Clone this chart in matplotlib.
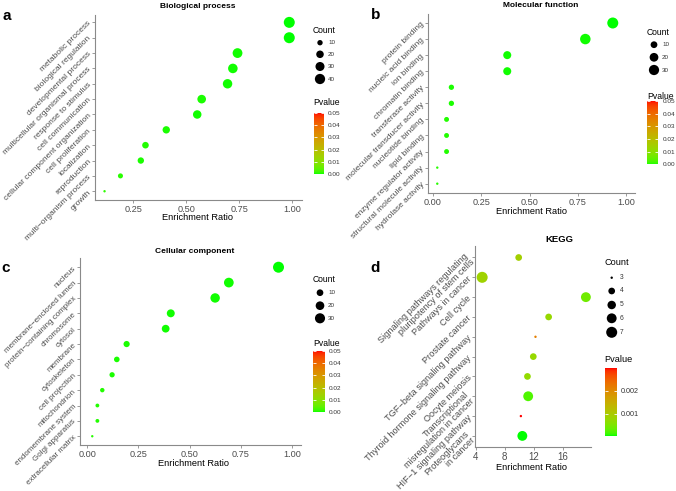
"""
Enrichment bubble plots (GO: BP / MF / CC + KEGG), four panels a-d.
"""
import matplotlib
matplotlib.use('Agg')
import matplotlib.pyplot as plt
from matplotlib.colors import ListedColormap, Normalize
from matplotlib.cm import ScalarMappable
import numpy as np

plt.rcParams['font.family'] = ['Liberation Sans', 'DejaVu Sans']

W, H = 676, 491   # figure size in pixels (dpi 100)

# ── Data ─────────────────────────────────────────────────────────────────────

bp_terms = ["metabolic process", "biological regulation", "developmental process",
            "multicellular organismal process", "response to stimulus",
            "cell communication", "cellular component organization",
            "cell proliferation", "localization", "reproduction",
            "multi\u2212organism process", "growth"]
bp_ratio = [0.986, 0.986, 0.742, 0.720, 0.695, 0.573, 0.552, 0.406, 0.308, 0.286, 0.190, 0.115]
bp_count = [47, 47, 36, 34, 33, 27, 26, 19, 15, 14, 9, 5]
bp_pval = [0.0001, 0.0001, 0.0002, 0.0002, 0.0003, 0.0004, 0.0003, 0.0005, 0.0006, 0.0004, 0.0008, 0.0010]

mf_terms = ["protein binding", "nucleic acid binding", "ion binding", "chromatin binding",
            "transferase activity", "molecular transducer activity", "nucleotide binding",
            "lipid binding", "enzyme regulator activity", "structural molecule activity",
            "hydrolase activity"]
mf_ratio = [0.930, 0.788, 0.384, 0.384, 0.095, 0.095, 0.070, 0.070, 0.070, 0.022, 0.022]
mf_count = [36, 32, 16, 16, 5, 5, 4, 4, 4, 1, 1]
mf_pval = [0.0001, 0.0002, 0.0003, 0.0003, 0.0005, 0.0005, 0.0006, 0.0006, 0.0006, 0.0008, 0.0008]

cc_terms = ["nucleus", "membrane\u2212enclosed lumen", "protein\u2212containing complex",
            "chromosome", "cytosol", "membrane", "cytoskeleton", "cell projection",
            "mitochondrion", "endomembrane system", "Golgi apparatus", "extracellular matrix"]
cc_ratio = [0.935, 0.692, 0.625, 0.408, 0.383, 0.192, 0.144, 0.121, 0.073, 0.049, 0.049, 0.024]
cc_count = [37, 27, 25, 16, 15, 8, 6, 5, 3, 2, 2, 1]
cc_pval = [0.0001, 0.0002, 0.0002, 0.0003, 0.0003, 0.0004, 0.0005, 0.0005, 0.0006, 0.0007, 0.0007, 0.0009]

kegg_terms = ["Signaling pathways regulating\npluripotency of stem cells",
              "Pathways in cancer", "Cell cycle", "Prostate cancer",
              "TGF\u2212beta signaling pathway", "Thyroid hormone signaling pathway",
              "Oocyte meiosis", "Transcriptional\nmisregulation in cancer",
              "HIF\u22121 signaling pathway", "Proteoglycans\nin cancer"]
kegg_ratio = [9.9, 4.9, 19.1, 14.0, 12.2, 11.9, 11.1, 11.2, 10.2, 10.4]
kegg_count = [4, 7, 6, 4, 3, 4, 4, 6, 3, 6]
kegg_pval = [0.00090, 0.00085, 0.00040, 0.00075, 0.00215, 0.00075, 0.00070, 0.00020, 0.00300, 0.00002]

# ── Helpers ──────────────────────────────────────────────────────────────────

def green_red_cmap(n=256):
    # ggplot-style gradient green -> red, interpolated in CIE Lab
    t = np.linspace(0, 1, n)[:, None]
    lab0 = np.array([87.73, -86.18, 83.18])
    lab1 = np.array([53.24, 80.09, 67.20])
    lab = lab0 + (lab1 - lab0) * t
    fy = (lab[:, 0] + 16) / 116
    fx = fy + lab[:, 1] / 500
    fz = fy - lab[:, 2] / 200
    finv = lambda f: np.where(f > 6 / 29, f ** 3, 3 * (6 / 29) ** 2 * (f - 4 / 29))
    xyz = np.stack([0.95047 * finv(fx), finv(fy), 1.08883 * finv(fz)], axis=1)
    m = np.array([[3.2406, -1.5372, -0.4986],
                  [-0.9689, 1.8758, 0.0415],
                  [0.0557, -0.2040, 1.0570]])
    lin = np.clip(xyz @ m.T, 0, 1)
    rgb = np.where(lin > 0.0031308, 1.055 * lin ** (1 / 2.4) - 0.055, 12.92 * lin)
    return ListedColormap(np.clip(rgb, 0, 1))

cmap = green_red_cmap()


def px_rect(left, top, right, bottom):
    return [left / W, 1 - bottom / H, (right - left) / W, (bottom - top) / H]


def dot_size(counts, cmin, cmax, dmin=2.4, dmax=11.0):
    t = (np.asarray(counts, float) - cmin) / (cmax - cmin)
    d = dmin + (dmax - dmin) * np.sqrt(np.clip(t, 0, 1))
    return (d * 72 / 100) ** 2


AX_COL = '#8a8a8a'
TXT_COL = '#4d4d4d'


def panel(rect, terms, ratio, count, pval, norm, xlim, ylim, xticks, xfmt,
          ylab_fs=6.0, xtick_fs=6.6):
    ax = fig.add_axes(px_rect(*rect))
    y = np.arange(len(terms))
    ax.scatter(ratio, y, s=dot_size(count, min(count), max(count)), c=pval,
               cmap=cmap, norm=norm, edgecolors='none', zorder=3, clip_on=False)
    ax.set_xlim(*xlim)
    ax.set_ylim(*ylim)
    ax.set_xticks(xticks)
    ax.set_xticklabels([xfmt(v) for v in xticks], fontsize=xtick_fs, color=TXT_COL)
    ax.set_yticks(y)
    ax.set_yticklabels(terms, fontsize=ylab_fs, color=TXT_COL, rotation=45,
                       ha='right', va='center', rotation_mode='anchor',
                       multialignment='right', linespacing=0.95)
    for side in ['top', 'right']:
        ax.spines[side].set_visible(False)
    for side in ['left', 'bottom']:
        ax.spines[side].set_color(AX_COL)
        ax.spines[side].set_linewidth(0.8)
    ax.tick_params(length=2, width=0.6, color=AX_COL, pad=1.5)
    ax.patch.set_alpha(0)
    return ax


def count_legend(x, y_title, ys, shown, cmin, cmax, fs_title=6.2, fs_lab=4.5):
    over.text(x, y_title, "Count", fontsize=fs_title, va='center', ha='left')
    over.scatter([x + 7] * len(shown), ys, s=dot_size(shown, cmin, cmax),
                 color='black', edgecolors='none')
    for yy, c in zip(ys, shown):
        over.text(x + 15, yy, str(c), fontsize=fs_lab, va='center', ha='left', color='#333333')


def pvalue_bar(x, y_title, rect, norm, ticks, fmt, fs_title=6.2, fs_lab=4.6):
    over.text(x, y_title, "Pvalue", fontsize=fs_title, va='center', ha='left')
    cax = fig.add_axes(px_rect(*rect))
    cb = fig.colorbar(ScalarMappable(norm=norm, cmap=cmap), cax=cax, ticks=ticks)
    cb.outline.set_visible(False)
    cb.set_ticklabels([fmt(v) for v in ticks])
    cax.tick_params(axis='y', direction='in', length=2.2, width=0.6, color='white',
                    left=True, right=True, labelsize=fs_lab, labelcolor='#333333', pad=3)
    return cb

# ── Figure ───────────────────────────────────────────────────────────────────

fig = plt.figure(figsize=(W / 100, H / 100), dpi=100)
fig.patch.set_facecolor('white')

go_norm = Normalize(0, 0.05)
kegg_norm = Normalize(min(kegg_pval), max(kegg_pval))
go_ticks = [0.00, 0.01, 0.02, 0.03, 0.04, 0.05]
two = lambda v: f"{v:.2f}"

panel((95, 15, 302, 200), bp_terms, bp_ratio, bp_count, bp_pval, go_norm,
      (0.07, 1.046), (11.57, -0.48), [0.25, 0.50, 0.75, 1.00], two)
panel((428, 14, 635, 193), mf_terms, mf_ratio, mf_count, mf_pval, go_norm,
      (-0.026, 1.045), (10.58, -0.56), [0.00, 0.25, 0.50, 0.75, 1.00], two)
panel((80, 258, 301, 445), cc_terms, cc_ratio, cc_count, cc_pval, go_norm,
      (-0.036, 1.045), (11.57, -0.6), [0.00, 0.25, 0.50, 0.75, 1.00], two,
      ylab_fs=5.8)
panel((475, 246, 591, 447), kegg_terms, kegg_ratio, kegg_count, kegg_pval, kegg_norm,
      (3.92, 19.8), (9.56, -0.58), [4, 8, 12, 16], lambda v: str(int(v)),
      ylab_fs=6.6, xtick_fs=7.0)

# overlay in pixel coordinates for titles, letters and legends
over = fig.add_axes([0, 0, 1, 1], zorder=10)
over.set_xlim(0, W)
over.set_ylim(H, 0)
over.axis('off')

# titles
over.text(198, 6.5, "Biological process", fontsize=6.0, fontweight='bold', ha='center', va='center')
over.text(541, 5, "Molecular function", fontsize=6.0, fontweight='bold', ha='center', va='center')
over.text(195, 251, "Cellular component", fontsize=6.0, fontweight='bold', ha='center', va='center')
over.text(559, 239, "KEGG", fontsize=6.8, fontweight='bold', ha='center', va='center')

# panel letters
for lx, ly, letter in [(2.5, 19.5, 'a'), (370.5, 19, 'b'), (1.5, 271.5, 'c'), (370.5, 272, 'd')]:
    over.text(lx, ly, letter, fontsize=11, fontweight='bold', ha='left', va='baseline')

# x axis titles
for lx, ly in [(197, 218), (531, 212), (194, 463), (532, 467)]:
    over.text(lx, ly, "Enrichment Ratio", fontsize=6.7, ha='center', va='center')

# legends
count_legend(313, 30, [42.7, 54.3, 66.5, 79], [10, 20, 30, 40], min(bp_count), max(bp_count))
pvalue_bar(313, 102, (314, 113, 324, 174), go_norm, go_ticks, two)

count_legend(647, 32, [44.7, 57.3, 70], [10, 20, 30], min(mf_count), max(mf_count))
pvalue_bar(647, 96, (647, 101, 658.5, 164.5), go_norm, go_ticks, two)

count_legend(313, 280, [292.7, 305.7, 318.3], [10, 20, 30], min(cc_count), max(cc_count))
pvalue_bar(313, 344, (313, 351, 325, 412), go_norm, go_ticks, two)

count_legend(604.7, 262.3, [277.7, 291, 305, 318.3, 332.3], [3, 4, 5, 6, 7],
             min(kegg_count), max(kegg_count), fs_title=6.6, fs_lab=4.8)
pvalue_bar(604.7, 360, (604.7, 368, 617, 436), kegg_norm, [0.001, 0.002],
           lambda v: f"{v:.3f}", fs_title=6.6, fs_lab=5.2)

fig.savefig("out.png", dpi=100)
print("saved out.png")
